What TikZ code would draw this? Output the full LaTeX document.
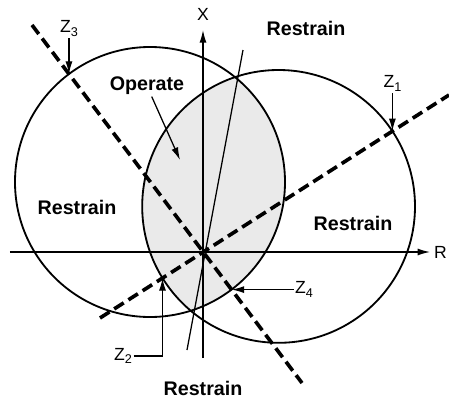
\documentclass[tikz,border=0pt]{standalone}
\usepackage{fontspec}
\setmainfont{Liberation Sans}
\usepackage{tikz}
\usetikzlibrary{arrows.meta,positioning,calc,intersections}
\definecolor{opfill}{RGB}{234,234,234}
\tikzset{
  zone/.style={font=\fontsize{14}{16}\selectfont\bfseries,inner sep=1pt},
  zlabel/.style={font=\fontsize{12.5}{14}\selectfont,inner sep=1pt},
  charline/.style={line width=1.3pt},
  axis/.style={line width=1pt},
  torque/.style={line width=2.6pt,dash pattern=on 8pt off 4pt},
  pointer/.style={-{Latex[length=9pt,width=5pt]},line width=0.9pt},
}
\newcommand{\zsub}[1]{Z\raisebox{-0.4ex}{\fontsize{9}{10}\selectfont #1}}

\begin{document}
\begin{tikzpicture}
  \useasboundingbox (-5.075,-3.65) rectangle (6.15,6.3);
  \coordinate (cL) at (-1.325,1.75);
  \coordinate (cR) at (1.89,1.14);

  % operate region
  \begin{scope}
    \clip (cL) circle (3.375);
    \fill[opfill] (cR) circle (3.41);
  \end{scope}
  \draw[charline,name path=left] (cL) circle (3.375);
  \draw[charline,name path=right] (cR) circle (3.41);

  % axes
  \coordinate (xb) at (0,-2.65);
  \coordinate (xt) at (0,5.55);
  \coordinate (rb) at (-4.825,0);
  \coordinate (rt) at (5.68,0);
  \draw[axis,-{Latex[length=9pt,width=5pt]}] (xb) -- (xt);
  \draw[axis,-{Latex[length=9pt,width=5pt]}] (rb) -- (rt);
  \node[zlabel] (xlbl) at (0,5.93) {X};
  \node[zlabel,anchor=west,inner sep=0pt] (rlbl) at (5.77,0) {R};

  % line through the crossing points
  \coordinate (t1) at (-0.4,-2.45);
  \coordinate (t2) at (1.0,5.05);
  \draw[line width=0.9pt] (t1) -- (t2);

  % dashed lines
  \coordinate (a1) at (-2.575,-1.65);
  \coordinate (a2) at (6.15,3.925);
  \coordinate (b1) at (-4.275,5.675);
  \coordinate (b2) at (2.475,-3.275);
  \draw[torque,name path=lineA] (a1) -- (a2);
  \draw[torque,name path=lineB] (b1) -- (b2);
  \path[name intersections={of=lineA and right,name=pa,sort by=lineA}];
  \path[name intersections={of=lineB and left,name=pb,sort by=lineB}];

  % Z points
  \node[zlabel,above=0.9cm of pb-1] (z3lbl) {\zsub{3}};
  \draw[pointer] (z3lbl) -- (pb-1);
  \node[zlabel,above=0.95cm of pa-2] (z1lbl) {\zsub{1}};
  \draw[pointer] (z1lbl) -- (pa-2);
  \node[zlabel] (z2lbl) at (-2.0,-2.6) {\zsub{2}};
  \draw[pointer] (z2lbl.east) -| (pa-1);
  \node[zlabel,right=1.55cm of pb-2] (z4lbl) {\zsub{4}};
  \draw[pointer] (z4lbl.west) -- (pb-2);

  % zones
  \node[zone] (oplbl) at (-1.4,4.15) {Operate};
  \coordinate (optip) at (-0.575,2.3);
  \draw[pointer] (oplbl) -- (optip);
  \node[zone] (rtop) at (2.575,5.6) {Restrain};
  \node[zone] (rleft) at (-3.15,1.125) {Restrain};
  \node[zone] (rright) at (3.75,0.725) {Restrain};
  \node[zone] (rbot) at (0,-3.4) {Restrain};
\end{tikzpicture}
\end{document}
